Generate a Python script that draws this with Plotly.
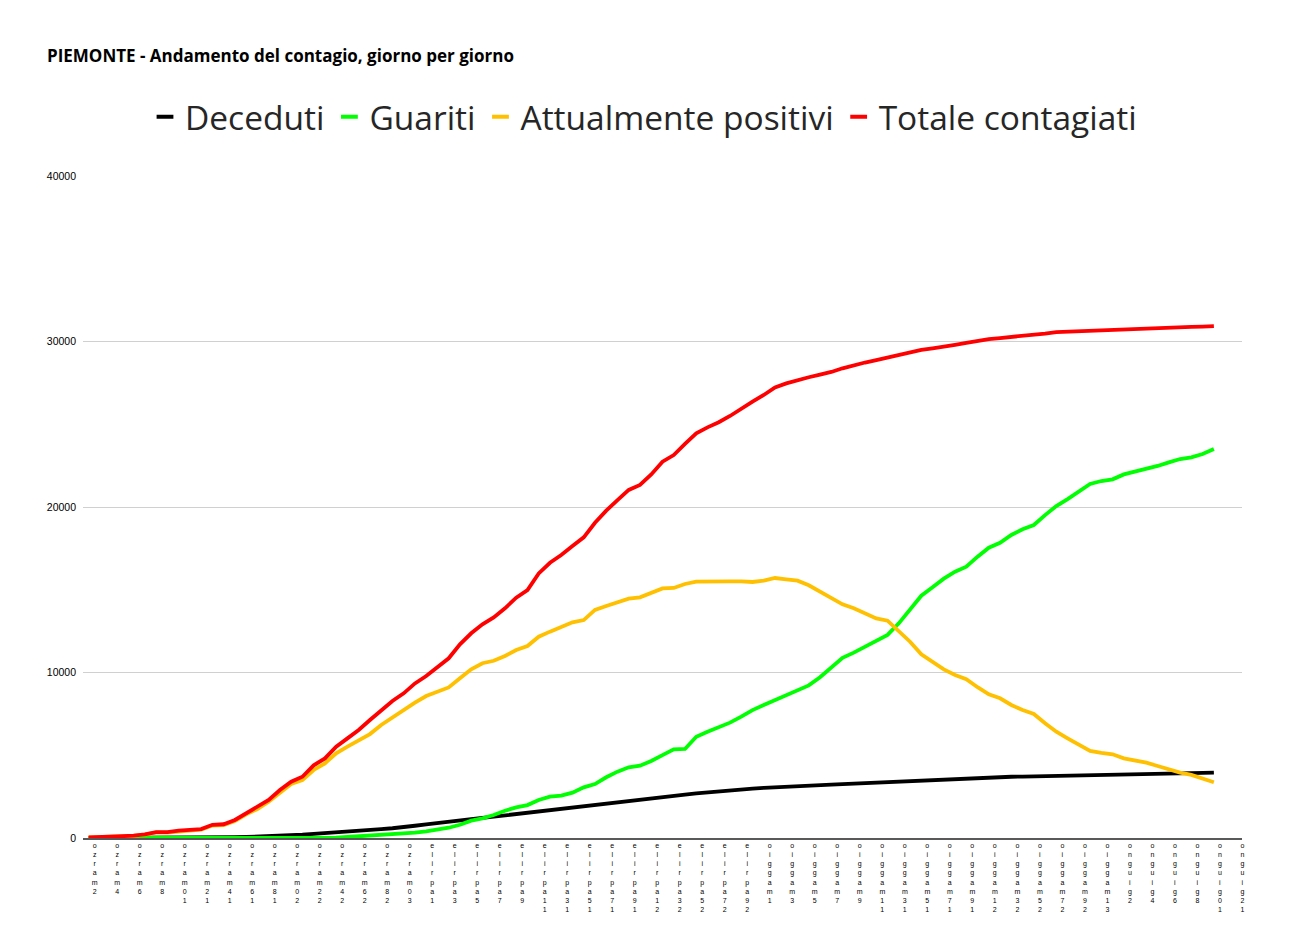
import plotly.graph_objects as go

# Categories: 2 marzo .. 12 giugno
months = [("marzo", 2, 31), ("aprile", 1, 30), ("maggio", 1, 31), ("giugno", 1, 12)]
dates = [f"{d}{m}" for (m, a, b) in months for d in range(a, b + 1)]

deceduti = [0, 0, 0, 0, 0, 5, 5, 10, 10, 15, 20, 25, 40, 50, 65, 85, 110, 140, 170, 200,
            250, 290, 330, 380, 430, 480, 540, 590, 650, 740, 830, 920, 990, 1060, 1140, 1210,
            1290, 1360, 1440, 1510, 1590, 1670, 1760, 1840, 1930, 2010, 2100, 2180, 2270, 2350,
            2420, 2490, 2560, 2620, 2690, 2760, 2820, 2890, 2940, 2990, 3030, 3070, 3110, 3140,
            3170, 3190, 3220, 3250, 3280, 3310, 3340, 3380, 3410, 3450, 3490, 3520, 3560, 3590,
            3620, 3640, 3660, 3680, 3700, 3710, 3720, 3730, 3740, 3755, 3770, 3780, 3790, 3800,
            3815, 3830, 3850, 3865, 3880, 3900, 3915, 3930, 3950]

guariti = [0, 0, 0, 0, 0, 0, 0, 0, 0, 0, 0, 0, 0, 0, 0, 0, 5, 5, 10, 10,
           15, 15, 20, 60, 100, 130, 160, 200, 240, 320, 400, 500, 620, 800, 1050, 1190,
           1390, 1650, 1850, 1990, 2300, 2500, 2560, 2740, 3060, 3260, 3670, 4010, 4270, 4370,
           4650, 5010, 5360, 5380, 6120, 6420, 6670, 6970, 7330, 7730, 8040, 8340, 8640, 8900,
           9220, 9710, 10310, 10890, 11200, 11560, 11960, 12270, 12970, 13780, 14640, 15150,
           15670, 16090, 16390, 17000, 17540, 17840, 18310, 18650, 18910, 19510, 20060, 20480,
           20920, 21390, 21570, 21670, 21970, 22130, 22280, 22480, 22700, 22900, 23000, 23200,
           23500]

positivi = [40, 50, 75, 100, 130, 200, 340, 330, 410, 450, 500, 750, 780, 1020, 1430, 1750,
            2190, 2740, 3260, 3500, 4110, 4510, 5120, 5520, 5920, 6280, 6830, 7290, 7730, 8180,
            8580, 8840, 9100, 9650, 10190, 10560, 10710, 11000, 11360, 11600, 12160, 12470,
            12730, 13030, 13170, 13780, 14020, 14240, 14460, 14540, 14780, 15080, 15110, 15350,
            15490, 15510, 15510, 15510, 15510, 15470, 15550, 15710, 15630, 15550, 15270, 14880,
            14480, 14120, 13880, 13580, 13270, 13130, 12470, 11860, 11100, 10650, 10190, 9850,
            9590, 9110, 8680, 8440, 8040, 7730, 7490, 6930, 6420, 6020, 5620, 5260, 5150, 5060,
            4810, 4670, 4550, 4350, 4150, 3950, 3810, 3610, 3370]

totale = [40, 50, 80, 110, 140, 220, 360, 350, 440, 480, 540, 800, 830, 1090, 1490, 1850,
          2300, 2900, 3400, 3700, 4390, 4810, 5520, 6020, 6530, 7130, 7730, 8280, 8740, 9340,
          9790, 10350, 10860, 11700, 12370, 12910, 13330, 13880, 14520, 14980, 15990, 16630,
          17100, 17640, 18170, 19050, 19780, 20420, 21030, 21330, 21970, 22740, 23140, 23810,
          24450, 24810, 25120, 25500, 25960, 26370, 26770, 27230, 27470, 27670, 27840, 28000,
          28160, 28380, 28580, 28730, 28880, 29030, 29180, 29340, 29490, 29580, 29670, 29790,
          29910, 30030, 30150, 30210, 30270, 30330, 30390, 30480, 30570, 30600, 30630, 30660,
          30690, 30720, 30750, 30780, 30810, 30840, 30870, 30875, 30880, 30900, 30930]

series_names = ["Deceduti", "Guariti", "Attualmente positivi", "Totale contagiati"]
series_values = [deceduti, guariti, positivi, totale]
series_colors = ["#000000", "#00FF00", "#FFC000", "#FF0000"]

tick_dates = dates[::2]
tick_text = ["<br>".join(list(d[::-1])) for d in tick_dates]

W, H = 1273, 931

fig = go.Figure()

# hidden trace so that every category (through 12 giugno) exists on the axis
fig.add_trace(go.Scatter(x=dates, y=[None] * len(dates), mode="lines",
                         showlegend=False, hoverinfo="skip"))

for name, vals, col in zip(series_names, series_values, series_colors):
    fig.add_trace(go.Scatter(x=dates[:len(vals)], y=vals, mode="lines", name=name,
                             line=dict(color=col, width=3.8), showlegend=False))

for name, col in zip(series_names, series_colors):
    fig.add_trace(go.Scatter(x=[None], y=[None], mode="markers", name=name,
                             marker=dict(symbol="line-ew", size=12,
                                         line=dict(color=col, width=4))))

fig.update_layout(
    width=W, height=H,
    paper_bgcolor="white", plot_bgcolor="white",
    margin=dict(l=75, r=39, t=168, b=101),
    title=dict(text="<b>PIEMONTE - Andamento del contagio, giorno per giorno</b>",
               x=39 / W, xanchor="left", xref="container",
               y=1 - 48 / H, yanchor="middle", yref="container",
               font=dict(family="Open Sans", size=17, color="#000000")),
    legend=dict(orientation="h", xref="container", x=635.5 / W, xanchor="center",
                yref="container", y=1 - 109 / H, yanchor="middle",
                font=dict(family="Open Sans", size=33.5, color="#262626"),
                itemsizing="trace", bgcolor="rgba(0,0,0,0)"),
    showlegend=True,
    xaxis=dict(type="category", categoryorder="array", categoryarray=dates,
               range=[-0.5, len(dates) - 0.5],
               tickmode="array", tickvals=tick_dates, ticktext=tick_text,
               tickangle=0, ticks="", showgrid=False, zeroline=False,
               showline=True, linecolor="#595959", linewidth=1.5,
               ticklabelshift=6,
               tickfont=dict(family="Liberation Sans", size=7, color="#000000")),
    yaxis=dict(range=[0, 40000], dtick=10000, tick0=0, showgrid=True,
               gridcolor="#D0D0D0", gridwidth=1, zeroline=False, showline=False,
               ticks="", tickformat="d", ticklabelstandoff=6,
               tickfont=dict(family="Liberation Sans", size=10.5, color="#000000")),
)

fig.write_html("out.html")
